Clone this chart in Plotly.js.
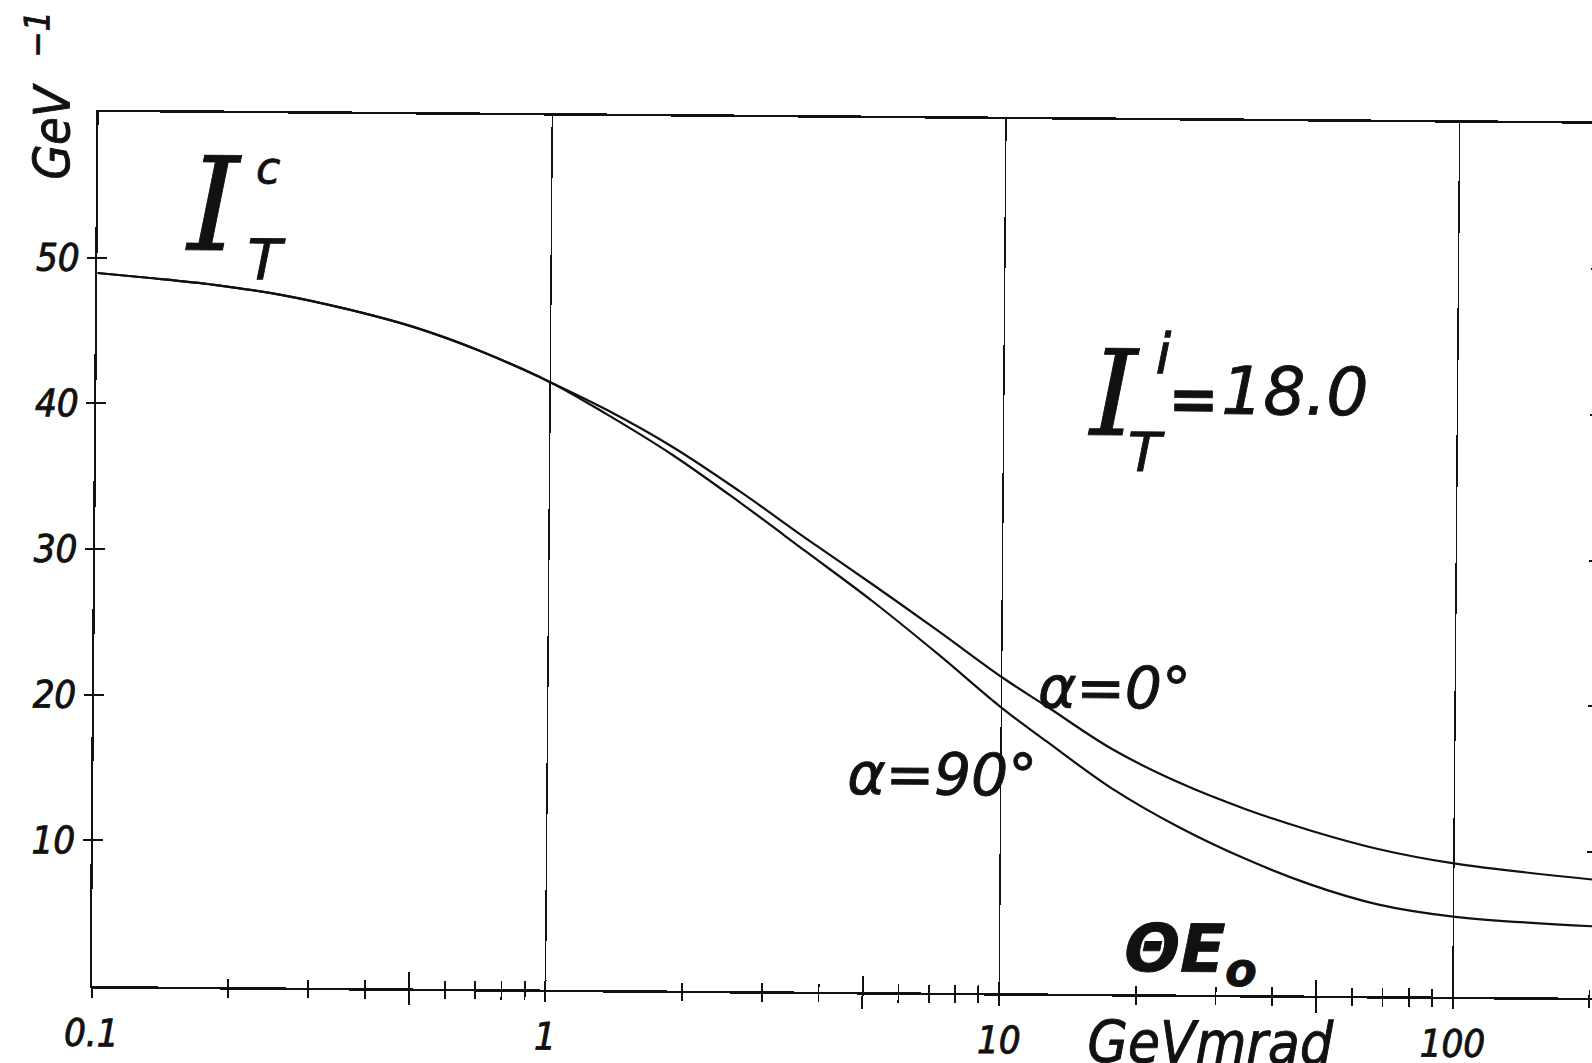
<!DOCTYPE html>
<html>
<head>
<meta charset="utf-8">
<script src="https://cdn.plot.ly/plotly-3.0.1.min.js"></script>
<style>
  html, body { margin: 0; padding: 0; background: #fff; overflow: hidden; }
  /* the sheet sits a little askew on the page */
  #chart { width: 1600px; height: 1063px; transform: rotate(0.45deg); transform-origin: 94px 700px; }
  /* pen-drawn lettering: give the glyphs a slightly heavier stroke */
  #chart svg text { stroke: #111; stroke-width: 0.9px; paint-order: stroke; }
</style>
</head>
<body>
<div id="chart"></div>
<script>
// Theta*E0 in GeV*mrad
const thetaE = [0.1, 0.129, 0.181, 0.254, 0.356, 0.5, 0.7, 1, 1.33, 1.87, 2.63, 3.69, 5.17, 7.26, 10, 12.6, 17.6, 24.7, 34.7, 48.6, 68, 100, 205];
// I_T^c in GeV^-1 for the two orientations
const alpha0  = [48.95, 48.65, 48.2, 47.55, 46.6, 45.4, 43.8, 41.7, 39.85, 37.3, 34.3, 31.1, 28.0, 24.8, 21.7, 19.7, 16.8, 14.55, 12.76, 11.3, 10.1, 9.15, 8.1];
const alpha90 = [48.95, 48.65, 48.2, 47.55, 46.6, 45.4, 43.8, 41.7, 39.55, 36.75, 33.55, 30.2, 26.85, 23.2, 19.6, 17.3, 14.1, 11.5, 9.35, 7.6, 6.3, 5.5, 4.9];

// axis ticks
const decadeTicks  = [0.1, 1, 10, 100];
const decadeLabels = ['0.1', '1', '10', '100'];
const minorTicks   = [0.2, 0.3, 0.4, 0.5, 0.6, 0.7, 0.8, 0.9, 2, 3, 4, 5, 6, 7, 8, 9, 20, 30, 40, 50, 60, 70, 80, 90, 200];
const halfTicks    = [0.5, 5, 50];
const yTicks       = [10, 20, 30, 40, 50];
const yLabels      = ['10', '20', '30', '40', '50'];

const INK = '#111';
const HAND  = '"Liberation Sans Narrow", "DejaVu Sans Condensed", "DejaVu Sans", sans-serif';
const ROUND = '"DejaVu Sans", sans-serif';
const SERIF = '"DejaVu Serif", serif';

// plot frame geometry (pixels)
const W = 1600, H = 1063;
const M = { l: 94, r: 2, t: 112, b: 77 };
const plotW = W - M.l - M.r, plotH = H - M.t - M.b;
const XMAX_LOG = -1 + plotW / 453.7;
const px = x => (x - M.l) / plotW;
const py = y => (H - M.b - y) / plotH;

function note(text, x, y, font, extra) {
  return Object.assign({
    text: text, xref: 'paper', yref: 'paper', x: px(x), y: py(y),
    xanchor: 'center', yanchor: 'middle', showarrow: false,
    font: Object.assign({ color: INK }, font)
  }, extra || {});
}

const curveLine = { color: INK, width: 2.2, shape: 'spline', smoothing: 1 };

const traces = [
  { x: thetaE, y: alpha0,  mode: 'lines', line: curveLine, name: 'α=0°',  hoverinfo: 'x+y' },
  { x: thetaE, y: alpha90, mode: 'lines', line: curveLine, name: 'α=90°', hoverinfo: 'x+y' },
  // empty traces so the overlay tick axes get drawn
  { x: [], y: [], xaxis: 'x2', yaxis: 'y',  hoverinfo: 'skip' },
  { x: [], y: [], xaxis: 'x3', yaxis: 'y',  hoverinfo: 'skip' },
  { x: [], y: [], xaxis: 'x4', yaxis: 'y',  hoverinfo: 'skip' },
  { x: [], y: [], xaxis: 'x',  yaxis: 'y2', hoverinfo: 'skip' }
];

const logRange = [-1, XMAX_LOG];
const tickOnly = (over, vals, dir, len, extra) => Object.assign({
  overlaying: over, type: over === 'x' ? 'log' : 'linear',
  tickmode: 'array', tickvals: vals, ticks: dir, ticklen: len, tickwidth: 2, tickcolor: INK,
  showticklabels: false, showline: false, showgrid: false, zeroline: false, fixedrange: true
}, extra);

const layout = {
  width: W, height: H,
  margin: M,
  paper_bgcolor: '#fff', plot_bgcolor: '#fff',
  showlegend: false,
  xaxis: {
    type: 'log', range: logRange, autorange: false,
    tickmode: 'array', tickvals: decadeTicks, ticktext: decadeLabels,
    ticks: 'outside', ticklen: 10, tickwidth: 2, tickcolor: INK,
    showline: true, linecolor: INK, linewidth: 2.5, mirror: true,
    showgrid: true, gridcolor: INK, gridwidth: 1.4, zeroline: false,
    tickfont: { family: HAND, size: 38, color: INK, style: 'italic' },
    ticklabelstandoff: 2,
    minor: { tickmode: 'array', tickvals: minorTicks, ticks: 'outside', ticklen: 8, tickwidth: 1.8, tickcolor: INK, showgrid: false }
  },
  xaxis2: tickOnly('x', decadeTicks, 'inside', 10, {
    range: logRange, autorange: false, anchor: 'y', side: 'bottom',
    minor: { tickmode: 'array', tickvals: minorTicks, ticks: 'inside', ticklen: 8, tickwidth: 1.8, tickcolor: INK, showgrid: false }
  }),
  xaxis3: tickOnly('x', halfTicks, 'outside', 16, { range: logRange, autorange: false, anchor: 'y', side: 'bottom' }),
  xaxis4: tickOnly('x', halfTicks, 'inside', 16, { range: logRange, autorange: false, anchor: 'y', side: 'bottom' }),
  yaxis: {
    range: [0, 60], autorange: false,
    tickmode: 'array', tickvals: yTicks, ticktext: yLabels,
    ticks: 'outside', ticklen: 8, tickwidth: 2, tickcolor: INK,
    showline: true, linecolor: INK, linewidth: 2.2, mirror: true,
    showgrid: false, zeroline: false,
    tickfont: { family: HAND, size: 38, color: INK, style: 'italic' },
    ticklabelstandoff: 0
  },
  yaxis2: tickOnly('y', yTicks, 'inside', 10, { range: [0, 60], autorange: false, anchor: 'x', side: 'left', mirror: 'ticks' }),
  annotations: [
    // axis units
    note('GeV\u00A0\u00A0<sup>−1</sup>', 44, 96, { family: HAND, size: 50, style: 'italic' }, { textangle: -90 }),
    note('GeVmrad', 1213, 1034, { family: HAND, size: 58, style: 'italic' }),
    note('ΘE<sub>o</sub>', 1192, 945, { family: ROUND, size: 66, weight: 'bold', style: 'italic' }),
    // I_T^c
    note('I', 210, 204, { family: SERIF, size: 130, style: 'italic' }),
    note('c', 264, 166, { family: ROUND, size: 44, style: 'italic' }),
    note('T', 263, 258, { family: ROUND, size: 56, style: 'italic' }),
    // I_T^i = 18.0
    note('I', 1111, 386, { family: SERIF, size: 119, style: 'italic' }),
    note('i', 1161, 345, { family: ROUND, size: 56, style: 'italic' }),
    note('T', 1144, 444, { family: ROUND, size: 54, style: 'italic' }),
    note('=', 1191, 390, { family: ROUND, size: 60, weight: 'bold' }),
    note('18.0', 1292, 382, { family: ROUND, size: 66, style: 'italic' }),
    // curve labels
    note('α=0°', 1036, 680, { family: ROUND, size: 58, style: 'italic' }, { xanchor: 'left' }),
    note('α=90°', 846, 768, { family: ROUND, size: 58, style: 'italic' }, { xanchor: 'left' })
  ]
};

Plotly.newPlot('chart', traces, layout, { staticPlot: true, displayModeBar: false });
</script>
</body>
</html>
